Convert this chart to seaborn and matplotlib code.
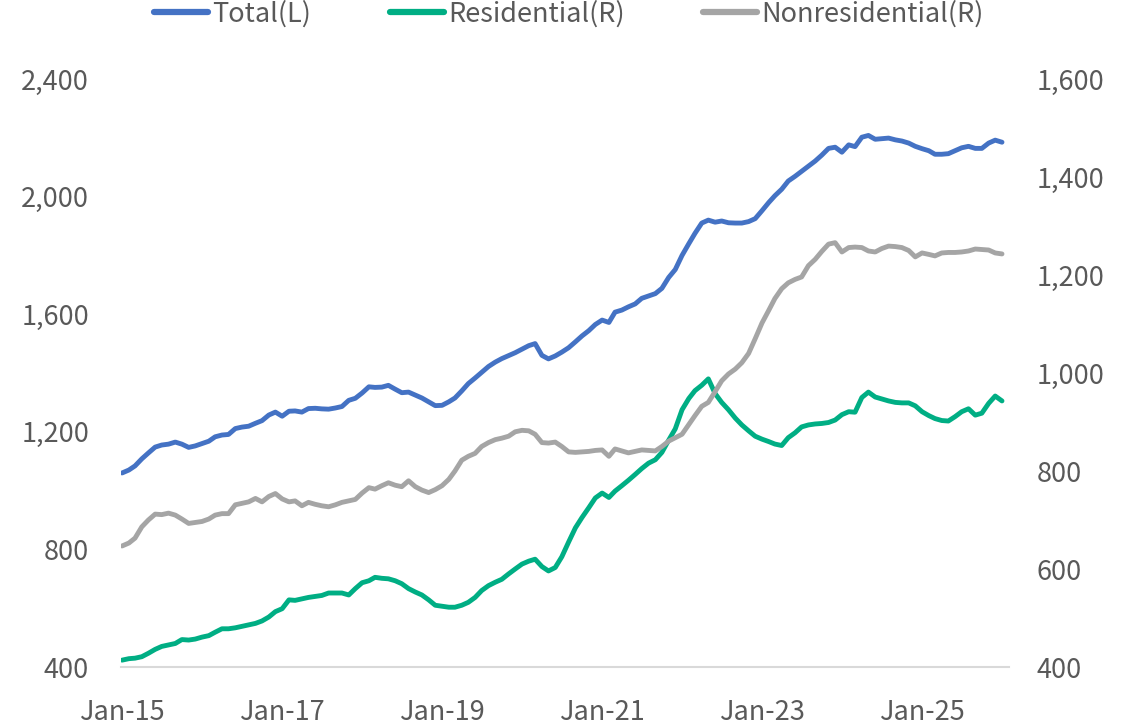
import numpy as np
import pandas as pd
import matplotlib
matplotlib.use("Agg")
import matplotlib.pyplot as plt
import seaborn as sns

# ---- data (monthly, Jan-2015 onward) ----
start_month = "2015-01-01"

total_left = [
    1060, 1070, 1084, 1108, 1128, 1148, 1155, 1158, 1165, 1158, 1147, 1152,
    1160, 1168, 1183, 1189, 1191, 1211, 1216, 1219, 1229, 1238, 1257, 1267,
    1253, 1270, 1271, 1267, 1279, 1280, 1278, 1277, 1281, 1286, 1307, 1314,
    1332, 1353, 1351, 1352, 1358, 1345, 1333, 1335, 1325, 1315, 1302, 1289,
    1290, 1302, 1315, 1339, 1364, 1383, 1402, 1422, 1437, 1449, 1459, 1469,
    1481, 1493, 1500, 1460, 1448, 1458, 1471, 1486, 1506, 1526, 1544, 1565,
    1580, 1572, 1607, 1614, 1625, 1635, 1654, 1662, 1670, 1688, 1725, 1752,
    1800, 1840, 1875, 1910, 1920, 1913, 1917, 1911, 1910, 1910, 1915, 1925,
    1952, 1980, 2003, 2025, 2053, 2069, 2086, 2104, 2121, 2141, 2164, 2168,
    2151, 2176, 2170, 2202, 2208, 2195, 2197, 2199, 2193, 2189, 2182, 2171,
    2163, 2156, 2144, 2144, 2146, 2156, 2166, 2171, 2164, 2164, 2182, 2192,
    2185,
]

residential_right = [
    414, 417, 418, 421, 428, 436, 442, 445, 448, 456, 455, 457,
    461, 464, 471, 478, 478, 480, 483, 486, 489, 494, 502, 513,
    519, 537, 536, 539, 542, 544, 546, 551, 551, 551, 547, 560,
    572, 576, 583, 581, 580, 576, 570, 560, 553, 547, 537, 526,
    524, 522, 522, 526, 532, 542, 556, 566, 573, 579, 590, 600,
    610, 616, 620, 605, 596, 603, 625, 655, 684, 705, 725, 745,
    755, 746, 759, 770, 781, 793, 805, 816, 823, 838, 863, 886,
    925, 948, 964, 975, 988, 958, 940, 925, 908, 894, 882, 871,
    865, 860, 855, 852, 868, 878, 890, 894, 896, 897, 899, 904,
    915, 921, 920, 950, 961, 951, 947, 943, 940, 939, 939, 933,
    921, 913, 907, 903, 902, 911, 921, 927, 914, 918, 938, 953,
    943,
]

nonresidential_right = [
    647, 653, 663, 686, 700, 712, 711, 714, 710, 702, 693, 695,
    697, 702, 710, 713, 713, 731, 734, 737, 744, 737, 748, 754,
    743, 737, 739, 729, 736, 732, 729, 727, 731, 736, 739, 742,
    755, 766, 763, 770, 776, 771, 768, 780, 768, 761, 756, 762,
    770, 783, 800, 822, 830, 836, 850, 858, 864, 867, 871, 880,
    883, 882, 875, 858, 857, 859, 850, 839, 838, 839, 840, 842,
    843, 830, 845, 841, 837, 840, 843, 842, 841, 850, 861, 868,
    875, 895, 913, 932, 940, 962, 984, 998, 1008, 1021, 1040, 1070,
    1102, 1128, 1152, 1172, 1184, 1191, 1196, 1219, 1232, 1248, 1263, 1266,
    1247, 1256, 1257, 1256, 1249, 1247, 1254, 1259, 1258, 1256, 1250, 1237,
    1245, 1242, 1239, 1245, 1246, 1246, 1247, 1249, 1253, 1252, 1251, 1245,
    1243,
]

series_names = ["Total(L)", "Residential(R)", "Nonresidential(R)"]
x_tick_labels = ["Jan-15", "Jan-17", "Jan-19", "Jan-21", "Jan-23", "Jan-25"]
x_tick_dates = ["2015-01-01", "2017-01-01", "2019-01-01", "2021-01-01", "2023-01-01", "2025-01-01"]
left_ticks = [400, 800, 1200, 1600, 2000, 2400]
right_ticks = [400, 600, 800, 1000, 1200, 1400, 1600]

# ---- styling ----
sns.set_theme(style="white")
plt.rcParams["font.family"] = ["Noto Sans CJK JP", "DejaVu Sans"]

c_total = "#4472C4"
c_res = "#00AE84"
c_non = "#A5A5A5"
txt = "#595959"
lw = 3.5

dates = pd.date_range(start_month, periods=len(total_left), freq="MS")
df = pd.DataFrame({
    "date": dates,
    "total": total_left,
    "res": residential_right,
    "non": nonresidential_right,
})

fig = plt.figure(figsize=(11.45, 7.25), dpi=100)
ax = fig.add_axes([121 / 1145, 1 - 667 / 725, (1009 - 121) / 1145, (667 - 79) / 725])
ax2 = ax.twinx()

sns.lineplot(data=df, x="date", y="res", ax=ax2, color=c_res, linewidth=lw,
             label=series_names[1], legend=False)
sns.lineplot(data=df, x="date", y="non", ax=ax2, color=c_non, linewidth=lw,
             label=series_names[2], legend=False)
sns.lineplot(data=df, x="date", y="total", ax=ax, color=c_total, linewidth=lw,
             label=series_names[0], legend=False)

for a in (ax, ax2):
    for ln in a.lines:
        ln.set_solid_capstyle("round")
        ln.set_solid_joinstyle("round")

ax.set_zorder(ax2.get_zorder() + 1)
ax.patch.set_visible(False)

ax.set_ylim(400, 2400)
ax2.set_ylim(400, 1600)
ax.set_yticks(left_ticks)
ax.set_yticklabels([f"{v:,}" for v in left_ticks])
ax2.set_yticks(right_ticks)
ax2.set_yticklabels([f"{v:,}" for v in right_ticks])

xd = pd.to_datetime(x_tick_dates)
ax.set_xticks(xd)
ax.set_xticklabels(x_tick_labels)
ax.set_xlim(dates[0] - pd.Timedelta(days=5), dates[-1] + pd.Timedelta(days=32))

ax.set_xlabel("")
ax.set_ylabel("")
ax2.set_ylabel("")

for a in (ax, ax2):
    for s in a.spines.values():
        s.set_visible(False)
    a.grid(False)
ax.spines["bottom"].set_visible(True)
ax.spines["bottom"].set_color("#D9D9D9")
ax.spines["bottom"].set_linewidth(1.5)

ax.tick_params(axis="y", length=0, pad=23, labelsize=19.5, colors=txt)
ax2.tick_params(axis="y", length=0, pad=20, labelsize=19.5, colors=txt)
ax.tick_params(axis="x", length=0, pad=23, labelsize=19.5, colors=txt)

handles = [ax.lines[0], ax2.lines[0], ax2.lines[1]]
leg = fig.legend(handles, series_names, loc="center", bbox_to_anchor=(0.497, 0.981),
                 ncol=3, frameon=False, fontsize=19.5, handlelength=2.0,
                 handletextpad=0.15, columnspacing=2.9)
for t in leg.get_texts():
    t.set_color(txt)
for h in leg.legend_handles:
    h.set_linewidth(4.5)

fig.savefig("out.png", dpi=100)
